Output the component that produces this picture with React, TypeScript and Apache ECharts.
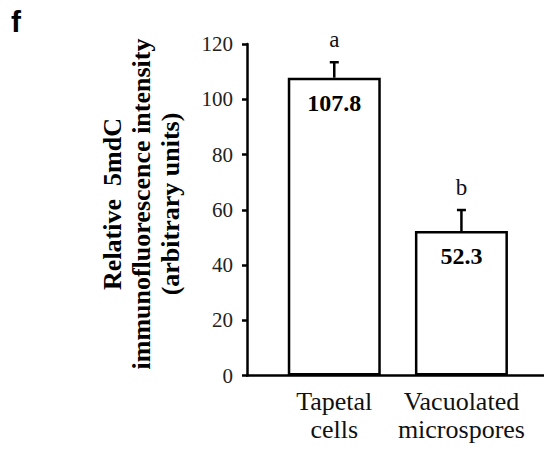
import React, { useEffect, useRef } from "react";
import * as echarts from "echarts";

const categories = ["Tapetal\ncells", "Vacuolated\nmicrospores"];
const means = [107.8, 52.3];
const errors = [5.6, 7.6];
const letters = ["a", "b"];
const yTicks = { min: 0, max: 120, interval: 20 };
const yTitle = ["Relative  5mdC", "immunofluorescence intensity", "(arbitrary units)"];
const panelLetter = "f";

const SERIF = "Liberation Serif";

export default function App() {
  const ref = useRef<HTMLDivElement>(null);

  useEffect(() => {
    if (!ref.current) return;
    const chart = echarts.init(ref.current, null, { renderer: "svg" });
    const top = 44;
    const bottom = 77.5;
    const option: any = {
      animation: false,
      backgroundColor: "#fff",
      textStyle: { fontFamily: SERIF },
      grid: [
        { left: 247, right: 0, top, bottom },
        { left: 270.7, right: 19, top, bottom },
      ],
      xAxis: [
        {
          type: "value",
          gridIndex: 0,
          min: 0,
          max: 1,
          axisLine: { show: true, onZero: false, lineStyle: { color: "#000", width: 2.5 } },
          axisTick: { show: false },
          axisLabel: { show: false },
          splitLine: { show: false },
        },
        {
          type: "category",
          gridIndex: 1,
          data: categories,
          axisLine: { show: false },
          axisTick: { show: false },
          axisLabel: {
            interval: 0,
            margin: 12,
            formatter: (v: string) =>
              v
                .split("\n")
                .map((s) => "{c|" + s + "}")
                .join("\n"),
            rich: {
              c: { fontFamily: SERIF, fontSize: 26, lineHeight: 28, color: "#111" },
            },
          },
        },
      ],
      yAxis: [
        {
          type: "value",
          gridIndex: 0,
          min: yTicks.min,
          max: yTicks.max,
          interval: yTicks.interval,
          axisLine: { show: true, lineStyle: { color: "#000", width: 2.5 } },
          axisTick: { show: true, inside: false, length: 5, lineStyle: { color: "#000", width: 2.5 } },
          axisLabel: {
            margin: 14,
            formatter: (v: number) => "{t|" + v + "}",
            rich: { t: { fontFamily: SERIF, fontSize: 21, color: "#222" } },
          },
          splitLine: { show: false },
        },
        {
          type: "value",
          gridIndex: 1,
          min: yTicks.min,
          max: yTicks.max,
          interval: yTicks.interval,
          show: false,
          splitLine: { show: false },
        },
      ],
      series: [
        {
          type: "bar",
          xAxisIndex: 1,
          yAxisIndex: 1,
          data: means,
          barWidth: 93,
          itemStyle: { color: "#fff", borderColor: "#000", borderWidth: 2.5 },
          label: {
            show: true,
            position: "insideTop",
            distance: 13,
            formatter: (p: any) => Number(p.value).toFixed(1),
            color: "#000",
            fontFamily: SERIF,
            fontWeight: "bold",
            fontSize: 24,
          },
          z: 2,
        },
        {
          type: "custom",
          xAxisIndex: 1,
          yAxisIndex: 1,
          data: means.map((m, i) => [i, m, errors[i]]),
          z: 3,
          renderItem: (params: any, api: any) => {
            const xi = api.value(0);
            const v = api.value(1);
            const e = api.value(2);
            const base = api.coord([xi, v]);
            const tp = api.coord([xi, v + e]);
            const hw = 4.5;
            return {
              type: "group",
              children: [
                {
                  type: "line",
                  shape: { x1: tp[0], y1: base[1], x2: tp[0], y2: tp[1] },
                  style: { stroke: "#000", lineWidth: 2.5 },
                },
                {
                  type: "line",
                  shape: { x1: tp[0] - hw, y1: tp[1], x2: tp[0] + hw, y2: tp[1] },
                  style: { stroke: "#000", lineWidth: 2.5 },
                },
                {
                  type: "text",
                  x: tp[0],
                  y: tp[1] - 11,
                  style: {
                    text: letters[params.dataIndex],
                    fill: "#111",
                    fontFamily: SERIF,
                    fontSize: 23,
                    align: "center",
                    verticalAlign: "bottom",
                  },
                },
              ],
            };
          },
        },
      ],
      graphic: [
        {
          type: "text",
          left: 11,
          top: 6,
          style: {
            text: panelLetter,
            fill: "#000",
            font: 'bold 30px "Liberation Sans", Arial, sans-serif',
          },
        },
        {
          type: "text",
          x: 141,
          y: 204,
          rotation: Math.PI / 2,
          style: {
            text: yTitle.join("\n"),
            fill: "#000",
            font: 'bold 26px "Liberation Serif", "Times New Roman", serif',
            lineHeight: 29,
            align: "center",
            verticalAlign: "middle",
          },
        },
      ],
    };
    chart.setOption(option);
    return () => chart.dispose();
  }, []);

  return (
    <div
      ref={ref}
      style={{ position: "fixed", left: 0, top: 0, width: 544, height: 453, background: "#fff" }}
    />
  );
}
